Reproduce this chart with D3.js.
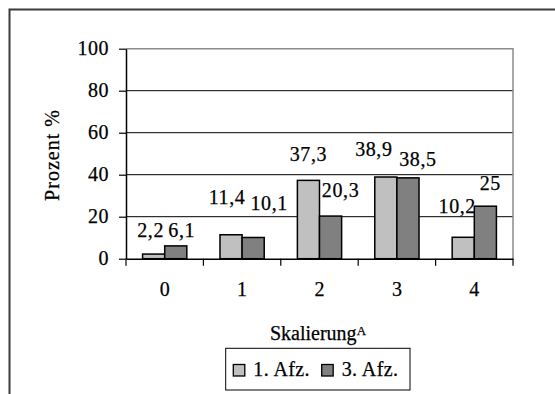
<!DOCTYPE html>
<html>
<head>
<meta charset="utf-8">
<script src="https://cdn.jsdelivr.net/npm/d3@7"></script>
<style>
  html, body { margin: 0; padding: 0; background: #fff; }
  svg { display: block; }
</style>
</head>
<body>
<svg id="chart" width="555" height="394"></svg>
<script>
// Response distribution over the scale values, per survey round
const categories = ["0", "1", "2", "3", "4"];
const seriesNames = ["1. Afz.", "3. Afz."];
const afz1 = [2.2, 11.4, 37.3, 38.9, 10.2];
const afz3 = [6.1, 10.1, 20.3, 38.5, 25];
const yTicks = [0, 20, 40, 60, 80, 100];
const valueLabels1 = ["2,2", "11,4", "37,3", "38,9", "10,2"];
const valueLabels3 = ["6,1", "10,1", "20,3", "38,5", "25"];

// Label placement tweaks (px, relative to bar centre / bar top)
const labelShift1 = [[-3, -17], [-4, -31], [0, -19], [-12, -21], [-6, -24]];
const labelShift3 = [[6, -9], [16, -27], [10, -19], [10, -12], [5, -16]];

const fills = ["#c0c0c0", "#808080"];
const FONT = "'Liberation Serif'";

const svg = d3.select("#chart");
const W = 555, H = 394;
const plot = { left: 126, right: 513, top: 48.7, bottom: 258.7 };

// Slightly heavier text strokes
function ink(sel) {
  return sel.attr("stroke", "#000").attr("stroke-width", 0.25);
}

// Outer frame (open towards right and bottom edges)
svg.append("path")
  .attr("d", `M9.5,${H + 2} L9.5,9.5 L${W + 2},9.5`)
  .attr("fill", "none")
  .attr("stroke", "#3a3a3a")
  .attr("stroke-width", 2);

const x = d3.scaleBand().domain(categories).range([plot.left, plot.right]).paddingInner(0).paddingOuter(0);
const xs = d3.scaleBand().domain(seriesNames).range([0, x.bandwidth()]).paddingInner(0).paddingOuter(0.75);
const y = d3.scaleLinear().domain([0, 100]).range([plot.bottom, plot.top]);

// Gridlines
svg.append("g")
  .selectAll("line")
  .data(yTicks.filter(t => t > 0 && t < 100))
  .join("line")
  .attr("x1", plot.left).attr("x2", plot.right)
  .attr("y1", d => y(d)).attr("y2", d => y(d))
  .attr("stroke", "#000").attr("stroke-width", 1);

// Plot area border (top and right)
svg.append("path")
  .attr("d", `M${plot.left},${y(100)} L${plot.right},${y(100)} L${plot.right},${y(0)}`)
  .attr("fill", "none")
  .attr("stroke", "#8c8c8c")
  .attr("stroke-width", 1.5);

// Bars
const rows = categories.map((c, i) => ({ cat: c, vals: [afz1[i], afz3[i]] }));
const groups = svg.append("g").selectAll("g")
  .data(rows).join("g")
  .attr("transform", d => `translate(${x(d.cat)},0)`);
groups.selectAll("rect")
  .data(d => d.vals.map((v, j) => ({ v, s: seriesNames[j], j })))
  .join("rect")
  .attr("x", d => xs(d.s))
  .attr("y", d => y(d.v))
  .attr("width", xs.bandwidth())
  .attr("height", d => y(0) - y(d.v))
  .attr("fill", d => fills[d.j])
  .attr("stroke", "#000")
  .attr("stroke-width", 1.5);

// Value labels
const labelData = [];
categories.forEach((c, i) => {
  labelData.push({ c, v: afz1[i], s: seriesNames[0], t: valueLabels1[i], sh: labelShift1[i] });
  labelData.push({ c, v: afz3[i], s: seriesNames[1], t: valueLabels3[i], sh: labelShift3[i] });
});
svg.append("g").selectAll("text")
  .data(labelData).join("text")
  .attr("x", d => x(d.c) + xs(d.s) + xs.bandwidth() / 2 + d.sh[0])
  .attr("y", d => y(d.v) + d.sh[1])
  .attr("text-anchor", "middle")
  .style("font-family", FONT)
  .style("font-size", "20px")
  .attr("letter-spacing", 0.6)
  .attr("fill", "#000")
  .call(ink)
  .text(d => d.t);

// Y axis
const yAxis = svg.append("g")
  .attr("transform", `translate(${plot.left},0)`)
  .call(d3.axisLeft(y).tickValues(yTicks).tickSize(7).tickPadding(10).tickSizeOuter(0));
yAxis.attr("font-family", null);
yAxis.select(".domain").attr("stroke", "#000").attr("stroke-width", 1.5);
yAxis.selectAll(".tick line").attr("stroke", "#000").attr("stroke-width", 1.2);
yAxis.selectAll(".tick text")
  .style("font-family", FONT).style("font-size", "20px")
  .attr("fill", "#000").attr("dy", "0.27em").attr("letter-spacing", 0.5)
  .call(ink);

// X axis with labels at category centres and ticks on category boundaries
const xAxis = svg.append("g")
  .attr("transform", `translate(0,${plot.bottom})`)
  .call(d3.axisBottom(x).tickSize(0).tickPadding(23).tickSizeOuter(0));
xAxis.attr("font-family", null);
xAxis.select(".domain").attr("stroke", "#000").attr("stroke-width", 1.5);
xAxis.selectAll(".tick text")
  .style("font-family", FONT).style("font-size", "20px").attr("fill", "#000")
  .call(ink);
const bounds = categories.map(c => x(c)).concat([x(categories[categories.length - 1]) + x.bandwidth()]);
xAxis.selectAll("line.bound")
  .data(bounds).join("line")
  .attr("class", "bound")
  .attr("x1", d => d).attr("x2", d => d)
  .attr("y1", 0).attr("y2", 7)
  .attr("stroke", "#000").attr("stroke-width", 1.2);

// Axis titles
svg.append("text")
  .attr("transform", `translate(59,155) rotate(-90)`)
  .attr("text-anchor", "middle")
  .style("font-family", FONT).style("font-size", "20px")
  .attr("letter-spacing", 1)
  .attr("fill", "#000")
  .call(ink)
  .text("Prozent %");

const xTitle = svg.append("text")
  .attr("x", 318).attr("y", 340)
  .attr("text-anchor", "middle")
  .style("font-family", FONT).style("font-size", "20px")
  .attr("fill", "#000")
  .call(ink);
xTitle.append("tspan").text("Skalierung");
xTitle.append("tspan").style("font-size", "13px").attr("dy", -5).text("A");

// Legend
const lg = svg.append("g");
lg.append("rect")
  .attr("x", 225.7).attr("y", 348.3).attr("width", 184.3).attr("height", 41.7)
  .attr("fill", "#fff").attr("stroke", "#000").attr("stroke-width", 1);
const legendX = [233.3, 321.7];
seriesNames.forEach((name, j) => {
  lg.append("rect")
    .attr("x", legendX[j]).attr("y", 364.5).attr("width", 11.5).attr("height", 11.5)
    .attr("fill", fills[j]).attr("stroke", "#000").attr("stroke-width", 1.3);
  lg.append("text")
    .attr("x", legendX[j] + 20).attr("y", 376)
    .style("font-family", FONT).style("font-size", "20px")
    .attr("letter-spacing", 0.4)
    .attr("fill", "#000")
    .call(ink)
    .text(name);
});
</script>
</body>
</html>
